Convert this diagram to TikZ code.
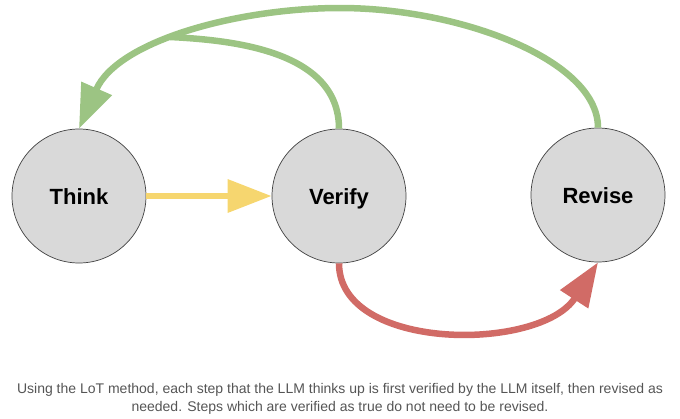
\documentclass[tikz,border=0pt]{standalone}
\usepackage{fontspec}
\setmainfont{Liberation Sans}
\usetikzlibrary{arrows.meta}

\definecolor{stepgray}{HTML}{D9D9D9}
\definecolor{thinkyellow}{HTML}{F6D66F}
\definecolor{verifygreen}{HTML}{9CC483}
\definecolor{revisered}{HTML}{D16B66}
\definecolor{captiongray}{HTML}{555555}

\begin{document}
\begin{tikzpicture}[x=1pt, y=-1pt,
    stepnode/.style = {draw=black!75, line width=0.7pt, circle, fill=stepgray, minimum size=134pt, inner sep=0pt, text height=16pt, text depth=0pt, font=\fontsize{22}{26}\selectfont\bfseries},
    flow/.style = {line width=6.5pt, -{Triangle[length=44pt, width=32pt]}}]
    \useasboundingbox (0,0) rectangle (680,418);

    \node[stepnode] (think) at (79,196) {Think};
    \node[stepnode] (verify) at (339,196) {Verify};
    \node[stepnode] (revise) at (598,195) {Revise};
    \coordinate (join) at (170,37);

    \draw[flow, thinkyellow] (think) -- (verify);
    \draw[flow, revisered] (verify.south) .. controls (339,352) and (540,352) .. (revise.south);
    \draw[flow, verifygreen] (revise.north) .. controls (598,60) and (460,8) .. (340,8)
        .. controls (240,8) and (118,40) .. (think.north);
    \draw[verifygreen, line width=6.5pt] (verify.north) .. controls (339,50) and (230,40) .. (join);

    \node[font=\fontsize{14}{18}\selectfont, text=captiongray, align=center] (caption) at (340,399)
        {Using the LoT method, each step that the LLM thinks up is first verified by the LLM itself, then revised as\\
         needed. Steps which are verified as true do not need to be revised.};
\end{tikzpicture}
\end{document}
